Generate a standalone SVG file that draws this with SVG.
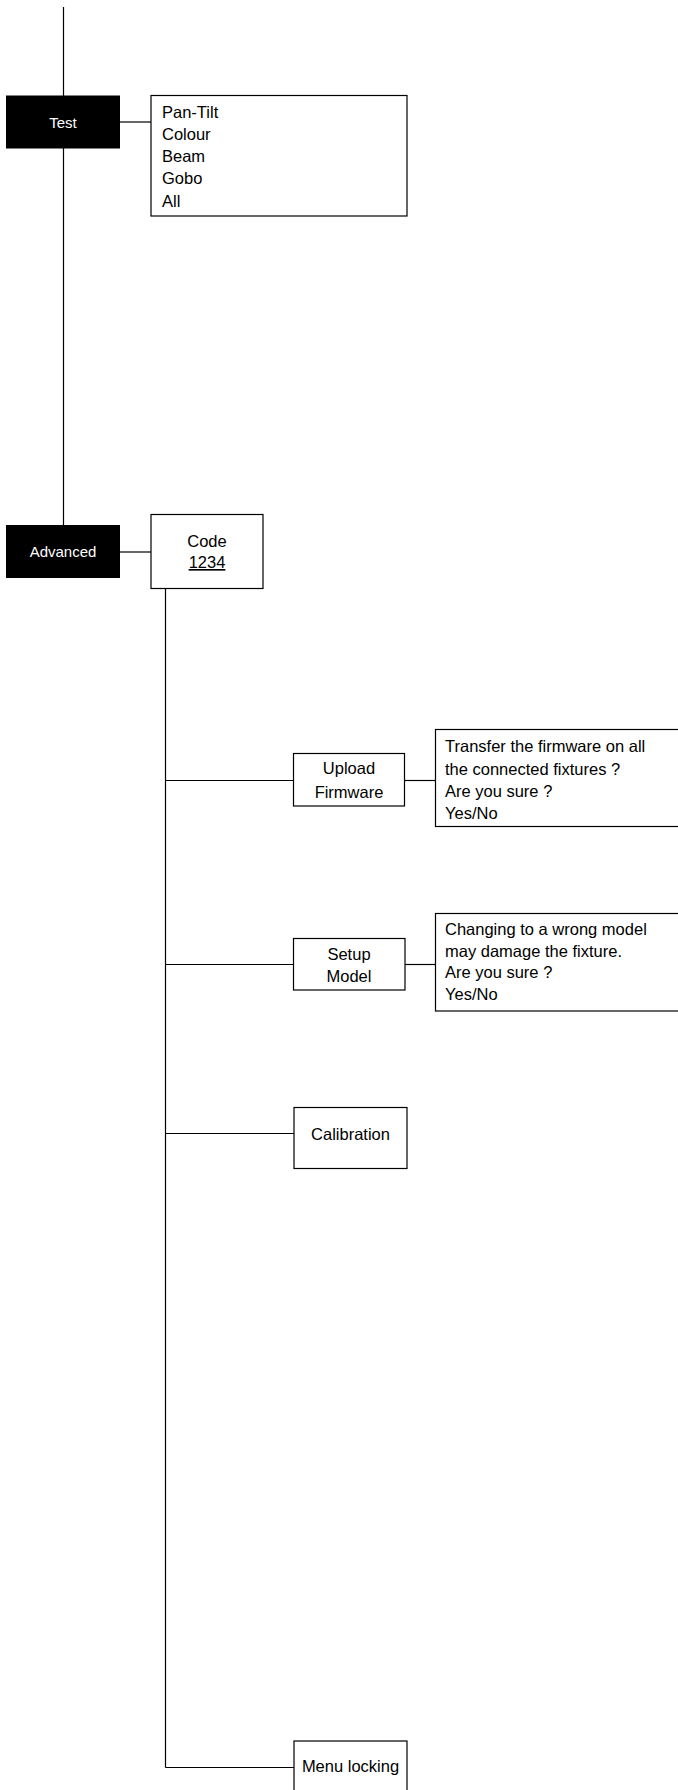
<svg xmlns="http://www.w3.org/2000/svg" width="678" height="1790" viewBox="0 0 678 1790">
<style>
.box{fill:#fff;stroke:#000;stroke-width:1.2}
.dark{fill:#000;stroke:none}
.ln{stroke:#000;stroke-width:1.2;fill:none}
text{font-family:"Liberation Sans",Arial,sans-serif;font-size:16.5px;fill:#000}
.w{fill:#fff;font-size:15px}
.c{text-anchor:middle}
</style>
<rect width="678" height="1790" fill="#fff"/>
<g id="connectors">
<line class="ln" x1="63.5" y1="7" x2="63.5" y2="96"/>
<line class="ln" x1="63.5" y1="148" x2="63.5" y2="525"/>
<line class="ln" x1="120" y1="122" x2="151" y2="122"/>
<line class="ln" x1="120" y1="552" x2="151" y2="552"/>
<line class="ln" x1="165.5" y1="588" x2="165.5" y2="1767.5"/>
<line class="ln" x1="165.5" y1="780.5" x2="294" y2="780.5"/>
<line class="ln" x1="404" y1="780.5" x2="436" y2="780.5"/>
<line class="ln" x1="165.5" y1="964.5" x2="294" y2="964.5"/>
<line class="ln" x1="405" y1="964.5" x2="436" y2="964.5"/>
<line class="ln" x1="165.5" y1="1133.5" x2="294" y2="1133.5"/>
<line class="ln" x1="165.5" y1="1767.5" x2="294" y2="1767.5"/>
</g>
<g id="test">
<rect class="dark" x="6" y="95.5" width="114" height="53"/>
<text class="w c" x="63" y="128">Test</text>
</g>
<g id="test-options">
<rect class="box" x="151" y="95.5" width="256" height="120.5"/>
<text x="162" y="118">Pan-Tilt</text>
<text x="162" y="140">Colour</text>
<text x="162" y="162">Beam</text>
<text x="162" y="184">Gobo</text>
<text x="162" y="206.5">All</text>
</g>
<g id="advanced">
<rect class="dark" x="6" y="525" width="114" height="53"/>
<text class="w c" x="63" y="557">Advanced</text>
</g>
<g id="code">
<rect class="box" x="151" y="514.5" width="112" height="74"/>
<text class="c" x="207" y="546.5">Code</text>
<text class="c" x="207" y="568" text-decoration="underline">1234</text>
</g>
<g id="upload-firmware">
<rect class="box" x="293.5" y="753.5" width="111" height="52.5"/>
<text class="c" x="349" y="774">Upload</text>
<text class="c" x="349" y="797.5">Firmware</text>
</g>
<g id="upload-confirm">
<rect class="box" x="435.5" y="729.5" width="250" height="97"/>
<text x="445" y="751.5">Transfer the firmware on all</text>
<text x="445" y="775">the connected fixtures ?</text>
<text x="445" y="797">Are you sure ?</text>
<text x="445" y="818.5">Yes/No</text>
</g>
<g id="setup-model">
<rect class="box" x="293.5" y="938.5" width="111.5" height="51.5"/>
<text class="c" x="349" y="960">Setup</text>
<text class="c" x="349" y="981.5">Model</text>
</g>
<g id="setup-confirm">
<rect class="box" x="435.5" y="913.5" width="250" height="97.5"/>
<text x="445" y="934.5">Changing to a wrong model</text>
<text x="445" y="956.5">may damage the fixture.</text>
<text x="445" y="978">Are you sure ?</text>
<text x="445" y="999.5">Yes/No</text>
</g>
<g id="calibration">
<rect class="box" x="294" y="1107.5" width="113" height="61"/>
<text class="c" x="350.5" y="1139.5">Calibration</text>
</g>
<g id="menu-locking">
<rect class="box" x="294" y="1741" width="113" height="60"/>
<text class="c" x="350.5" y="1772">Menu locking</text>
</g>
</svg>
